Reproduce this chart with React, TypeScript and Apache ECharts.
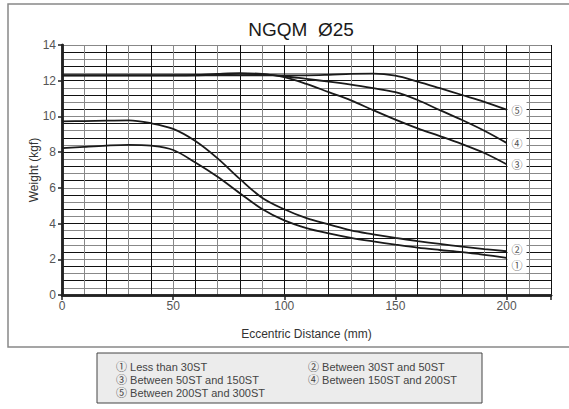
import React, { useEffect, useRef } from "react";
import * as echarts from "echarts";

// Eccentric distance (mm) sample points
const distLow = [0, 10, 20, 30, 40, 50, 60, 70, 80, 90, 100, 110, 120, 130, 140, 150, 160, 170, 180, 190, 200];
const distHigh = [0, 20, 40, 60, 70, 80, 90, 100, 110, 120, 130, 140, 150, 160, 170, 180, 190, 200];

// Weight (kgf)
const w1 = [8.22, 8.3, 8.37, 8.41, 8.36, 8.12, 7.42, 6.62, 5.7, 4.82, 4.18, 3.75, 3.45, 3.2, 3.0, 2.82, 2.65, 2.52, 2.4, 2.25, 2.08];
const w2 = [9.72, 9.74, 9.76, 9.78, 9.62, 9.3, 8.62, 7.65, 6.5, 5.45, 4.8, 4.3, 3.95, 3.62, 3.4, 3.2, 3.02, 2.86, 2.71, 2.57, 2.45];
const w3 = [12.3, 12.3, 12.3, 12.32, 12.38, 12.42, 12.38, 12.2, 11.82, 11.36, 10.9, 10.35, 9.82, 9.33, 8.9, 8.45, 7.95, 7.32];
const w4 = [12.3, 12.3, 12.3, 12.3, 12.34, 12.38, 12.35, 12.25, 12.1, 11.95, 11.78, 11.58, 11.36, 10.92, 10.35, 9.8, 9.2, 8.52];
const w5 = [12.3, 12.3, 12.3, 12.3, 12.3, 12.3, 12.3, 12.3, 12.3, 12.33, 12.38, 12.4, 12.28, 11.95, 11.58, 11.2, 10.82, 10.38];

const seriesMarks = ["①", "②", "③", "④", "⑤"];
const legendItems = [
  "① Less than 30ST",
  "② Between 30ST and 50ST",
  "③ Between 50ST and 150ST",
  "④ Between 150ST and 200ST",
  "⑤ Between 200ST and 300ST",
];

const xTicks = [0, 50, 100, 150, 200];
const yTicks = [0, 2, 4, 6, 8, 10, 12, 14];

const FONT = "'Liberation Sans', Arial, 'Noto Sans CJK KR', sans-serif";

function pairs(xs: number[], ys: number[]) {
  return xs.map((x, i) => [x, ys[i]]);
}

export default function App() {
  const ref = useRef<HTMLDivElement>(null);
  useEffect(() => {
    if (!ref.current) return;
    const chart = echarts.init(ref.current, null, { renderer: "svg" });
    const data = [pairs(distLow, w1), pairs(distLow, w2), pairs(distHigh, w3), pairs(distHigh, w4), pairs(distHigh, w5)];
    const labelOffsets = [[0, 7], [0, -2], [0, 0], [0, 0], [0, 0]];
    const series = data.map((d, i) => ({
      type: "line",
      xAxisIndex: 0,
      yAxisIndex: 0,
      data: d,
      smooth: 0.35,
      showSymbol: false,
      symbol: "none",
      lineStyle: { color: "#1a1a1a", width: 1.8 },
      z: 5,
      endLabel: {
        show: true,
        formatter: seriesMarks[i],
        offset: labelOffsets[i],
        distance: 1,
        color: "#555",
        fontSize: 11,
        fontFamily: "'Noto Sans CJK KR', 'DejaVu Sans', sans-serif",
        backgroundColor: "#fff",
        padding: [3, 4],
      },
    }));

    const legendX = [116, 308];
    const legendY = [367, 380, 393];
    const legendTexts = legendItems.map((t, i) => ({
      type: "text",
      x: legendX[i % 2],
      y: legendY[Math.floor(i / 2)],
      style: {
        text: t,
        fill: "#444",
        font: `11px ${FONT}`,
        textVerticalAlign: "middle",
      },
    }));

    chart.setOption({
      animation: false,
      backgroundColor: "#fff",
      title: {
        text: "NGQM  Ø25",
        left: 296,
        top: 15,
        textAlign: "center",
        textStyle: { fontSize: 19, fontWeight: "normal", color: "#1a1a1a", fontFamily: FONT },
      },
      grid: { left: 62, right: 18, top: 45, bottom: 114, show: false },
      xAxis: [
        {
          type: "value",
          min: 0,
          max: 220,
          interval: 50,
          position: "bottom",
          name: "Eccentric Distance (mm)",
          nameLocation: "middle",
          nameGap: 33,
          nameMoveOverlap: false,
          nameTextStyle: { color: "#333", fontSize: 12, fontFamily: FONT },
          axisLine: { show: true, lineStyle: { color: "#222", width: 2.5 } },
          axisTick: { show: true, length: 5, lineStyle: { color: "#222", width: 1.5 } },
          axisLabel: {
            color: "#555",
            fontSize: 12,
            fontFamily: FONT,
            margin: 5,
            formatter: (v: number) => (xTicks.includes(v) ? String(v) : ""),
          },
          splitLine: { show: false },
        },
        {
          type: "value",
          min: 0,
          max: 220,
          interval: 10,
          position: "top",
          axisLine: { show: true, lineStyle: { color: "#222", width: 2.5 } },
          axisTick: { show: false },
          axisLabel: { show: false },
          splitLine: { show: true, lineStyle: { color: ["#111", "#888"], width: 1 } },
        },
      ],
      yAxis: [
        {
          type: "value",
          min: 0,
          max: 14,
          interval: 2,
          position: "left",
          name: "Weight (kgf)",
          nameLocation: "middle",
          nameGap: 22,
          nameMoveOverlap: false,
          nameTextStyle: { color: "#333", fontSize: 12, fontFamily: FONT },
          axisLine: { show: true, lineStyle: { color: "#222", width: 2.5 } },
          axisTick: { show: true, length: 4, lineStyle: { color: "#222", width: 1.5 } },
          axisLabel: {
            color: "#555",
            fontSize: 12,
            fontFamily: FONT,
            margin: 6,
            formatter: (v: number) => (yTicks.includes(v) ? String(v) : ""),
          },
          splitLine: { show: false },
        },
        {
          type: "value",
          min: 0,
          max: 14,
          interval: 0.4,
          position: "right",
          axisLine: { show: true, lineStyle: { color: "#222", width: 2.5 } },
          axisTick: { show: false },
          axisLabel: { show: false },
          splitLine: { show: true, lineStyle: { color: ["#111", "#888"], width: 1 } },
        },
      ],
      graphic: [
        {
          type: "rect",
          shape: { x: 8, y: 4, width: 600, height: 343 },
          style: { fill: "none", stroke: "#888", lineWidth: 1.5 },
          silent: true,
          z: -10,
        },
        {
          type: "rect",
          shape: { x: 97, y: 353, width: 385, height: 50 },
          style: { fill: "#ececec", stroke: "#444", lineWidth: 1 },
          silent: true,
        },
        ...legendTexts,
      ],
      series,
    });
    return () => chart.dispose();
  }, []);
  return (
    <div
      ref={ref}
      style={{ position: "fixed", left: 0, top: 0, width: 569, height: 409 }}
    />
  );
}
